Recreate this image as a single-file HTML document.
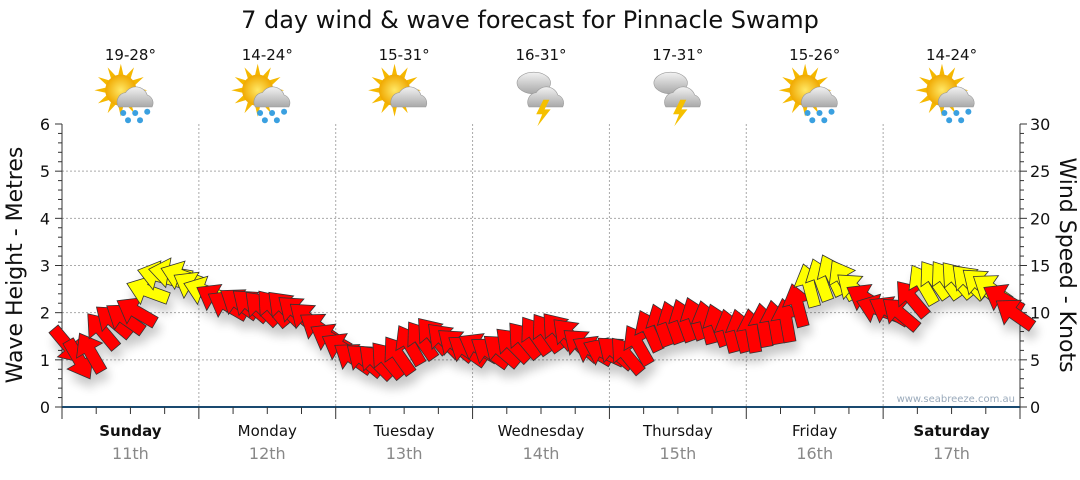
<!DOCTYPE html>
<html><head><meta charset="utf-8"><style>
body{margin:0;background:#fff;font-family:"Liberation Sans",sans-serif}
svg text{font-family:"DejaVu Sans","Liberation Sans",sans-serif}
</style></head><body>
<svg id="c" width="1080" height="475" xmlns="http://www.w3.org/2000/svg">
<defs>
<filter id="sh" x="-50%" y="-50%" width="200%" height="200%"><feGaussianBlur in="SourceAlpha" stdDeviation="5"/><feOffset dx="3" dy="9"/><feComponentTransfer><feFuncA type="linear" slope="0.22"/></feComponentTransfer><feMerge><feMergeNode/><feMergeNode in="SourceGraphic"/></feMerge></filter>
<radialGradient id="sun" cx="0.5" cy="0.5" r="0.5"><stop offset="0" stop-color="#ffe866"/><stop offset="1" stop-color="#f0a800"/></radialGradient>
<linearGradient id="cl" x1="0" y1="0" x2="0" y2="1"><stop offset="0" stop-color="#f2f2f2"/><stop offset="1" stop-color="#a8a8a8"/></linearGradient>
</defs>
<text x="530" y="28" text-anchor="middle" font-size="24" fill="#111">7 day wind &amp; wave forecast for Pinnacle Swamp</text>
<g id="grid"></g><g id="icons"></g><g id="axes"></g><g id="arrows" filter="url(#sh)"></g>
<text x="1015" y="402" text-anchor="end" font-size="10" fill="#9aaabb">www.seabreeze.com.au</text>
<text transform="translate(22,265) rotate(-90)" text-anchor="middle" font-size="22" fill="#111">Wave Height - Metres</text>
<text transform="translate(1060,265) rotate(90)" text-anchor="middle" font-size="22" fill="#111">Wind Speed - Knots</text>
</svg>
<script>
const days=["Sunday","Monday","Tuesday","Wednesday","Thursday","Friday","Saturday"];
const dates=["11th","12th","13th","14th","15th","16th","17th"];
const temps=["19-28°","14-24°","15-31°","16-31°","17-31°","15-26°","14-24°"];
const iconTypes=["rain","rain","cloud","storm","storm","rain","rain"];
const waveTicks=[0,1,2,3,4,5,6];
const windTicks=[0,5,10,15,20,25,30];
// wind speed (knots), every 2 hours
const windSpeed=[6.5,5.0,5.8,8.1,9.1,9.4,10.1,12.3,13.9,14.2,13.9,12.8,
12.3,11.5,10.8,11.0,10.8,10.5,10.5,10.5,10.1,9.4,8.4,7.3,
6.3,5.2,5.0,4.8,5.0,5.5,6.6,7.1,7.6,7.1,6.6,6.0,
6.3,5.8,6.0,6.6,7.1,7.6,7.9,8.1,7.6,6.6,6.0,5.8,
5.8,5.5,6.6,8.1,8.7,9.0,9.2,9.4,9.0,8.7,8.1,8.1,
8.1,8.7,9.0,9.2,10.8,12.9,13.5,14.0,13.5,12.5,11.5,10.4,
10.2,9.9,11.5,13.0,13.5,13.5,13.5,13.3,13.0,12.5,11.5,9.9];
// direction arrow points to (screen degrees, 0 = right, 90 = down)
const windDir=[50,60,-120,-130,-140,-145,-150,-160,-165,-170,-160,-150,
-160,-150,-150,-145,-140,-135,-130,-135,-140,-140,-145,-150,
-150,-145,-140,-135,-130,-125,-120,-125,-130,-135,-140,-145,
-150,-145,-140,-135,-130,-125,-125,-130,-135,-140,-150,-155,
-140,-130,-120,-115,-110,-110,-110,-110,-105,-110,-105,-105,
-100,-100,-100,-100,-105,-105,-110,-115,-120,-140,-150,-160,
-150,-140,-130,-120,-125,-125,-130,-135,-140,-145,-150,-145];
const L=62,R=1020,T=124,B=407;
const xs=i=>L+(R-L)*i/84+(R-L)/168;
const yw=m=>B-(B-T)*m/6, yk=k=>B-(B-T)*k/30;
const NS="http://www.w3.org/2000/svg";
function mk(tag,attrs,parent,txt){const e=document.createElementNS(NS,tag);for(const k in attrs)e.setAttribute(k,attrs[k]);if(txt!==undefined)e.textContent=txt;parent.appendChild(e);return e;}
const grid=document.getElementById('grid'),axes=document.getElementById('axes'),icons=document.getElementById('icons'),arr=document.getElementById('arrows');
const dw=(R-L)/7;
waveTicks.forEach(m=>{if(m>0&&m<6){const g=mk('line',{x1:L,x2:R,y1:yw(m),y2:yw(m),stroke:'#aaa','stroke-dasharray':'2,2'},grid);}
 const t=mk('text',{x:L-12,y:yw(m)+6,'text-anchor':'end','font-size':16,fill:'#111'},axes,m);});
windTicks.forEach(k=>{const t=mk('text',{x:R+10,y:yk(k)+6,'font-size':16,fill:'#111'},axes,k);});
for(let d=1;d<7;d++){const g=mk('line',{x1:L+dw*d,x2:L+dw*d,y1:T,y2:B,stroke:'#aaa','stroke-dasharray':'2,2'},grid);}
mk('line',{x1:L,x2:L,y1:T,y2:B,stroke:'#333'},axes);
mk('line',{x1:R,x2:R,y1:T,y2:B,stroke:'#333'},axes);
mk('line',{x1:L,x2:R,y1:B,y2:B,stroke:'#1a4a70','stroke-width':2},axes);
for(let i=0;i<=30;i++){const w=i%5==0?7:4;mk('line',{x1:L-w,x2:L,y1:yw(i/5),y2:yw(i/5),stroke:'#333'},axes);mk('line',{x1:R,x2:R+w,y1:yk(i),y2:yk(i),stroke:'#333'},axes);}
for(let i=0;i<=28;i++){const x=L+dw*i/4;mk('line',{x1:x,x2:x,y1:B,y2:B+(i%4==0?12:7),stroke:'#333'},axes);}
days.forEach((d,i)=>{const cx=L+dw*(i+0.5);
 const t=mk('text',{x:cx,y:436,'text-anchor':'middle','font-size':15,fill:'#111','font-weight':(i==0||i==6)?'bold':'normal'},axes,d);
 const t2=mk('text',{x:cx,y:459,'text-anchor':'middle','font-size':16,fill:'#888'},axes,dates[i]);
 const t3=mk('text',{x:cx,y:60,'text-anchor':'middle','font-size':15,fill:'#111'},icons,temps[i]);
 const g=mk('g',{transform:`translate(${cx},95) scale(1.2)`},icons);
 const ty=iconTypes[i];
 if(ty!='storm'){for(let a=0;a<12;a++){const an=a*30*Math.PI/180;mk('polygon',{points:`${-8+Math.cos(an)*22},${-4+Math.sin(an)*22} ${-8+Math.cos(an+0.2)*12},${-4+Math.sin(an+0.2)*12} ${-8+Math.cos(an-0.2)*12},${-4+Math.sin(an-0.2)*12}`,fill:'#f5b800'},g);}
  mk('circle',{cx:-8,cy:-4,r:13,fill:'url(#sun)'},g);}
 else{mk('ellipse',{cx:-6,cy:-10,rx:14,ry:9,fill:'url(#cl)',stroke:'#999','stroke-width':0.5},g);}
 mk('path',{d:'M-10,10 a8,8 0 0 1 6,-12 a10,10 0 0 1 18,2 a7,7 0 0 1 4,10 z',fill:'url(#cl)',stroke:'#999','stroke-width':0.5},g);
 if(ty=='rain'){[[-6,15],[4,15],[14,14],[-2,21],[8,21]].forEach(p=>mk('circle',{cx:p[0],cy:p[1],r:2.5,fill:'#3aa0e0'},g));}
 if(ty=='storm'){mk('polygon',{points:'2,4 -4,16 1,16 -3,26 8,12 3,12 7,4',fill:'#f5c000'},g);}
});
windSpeed.forEach((k,i)=>{const x=xs(i),y=yk(k);
 const p=mk('polygon',{points:'-22,-6 2,-6 2,-15 22,0 2,15 2,6 -22,6',fill:k>=11.8?'#ffff00':'#ff0000',stroke:'#333','stroke-width':0.8,transform:`translate(${x},${y}) rotate(${windDir[i]})`},arr);
 
 });
</script>
</body></html>
